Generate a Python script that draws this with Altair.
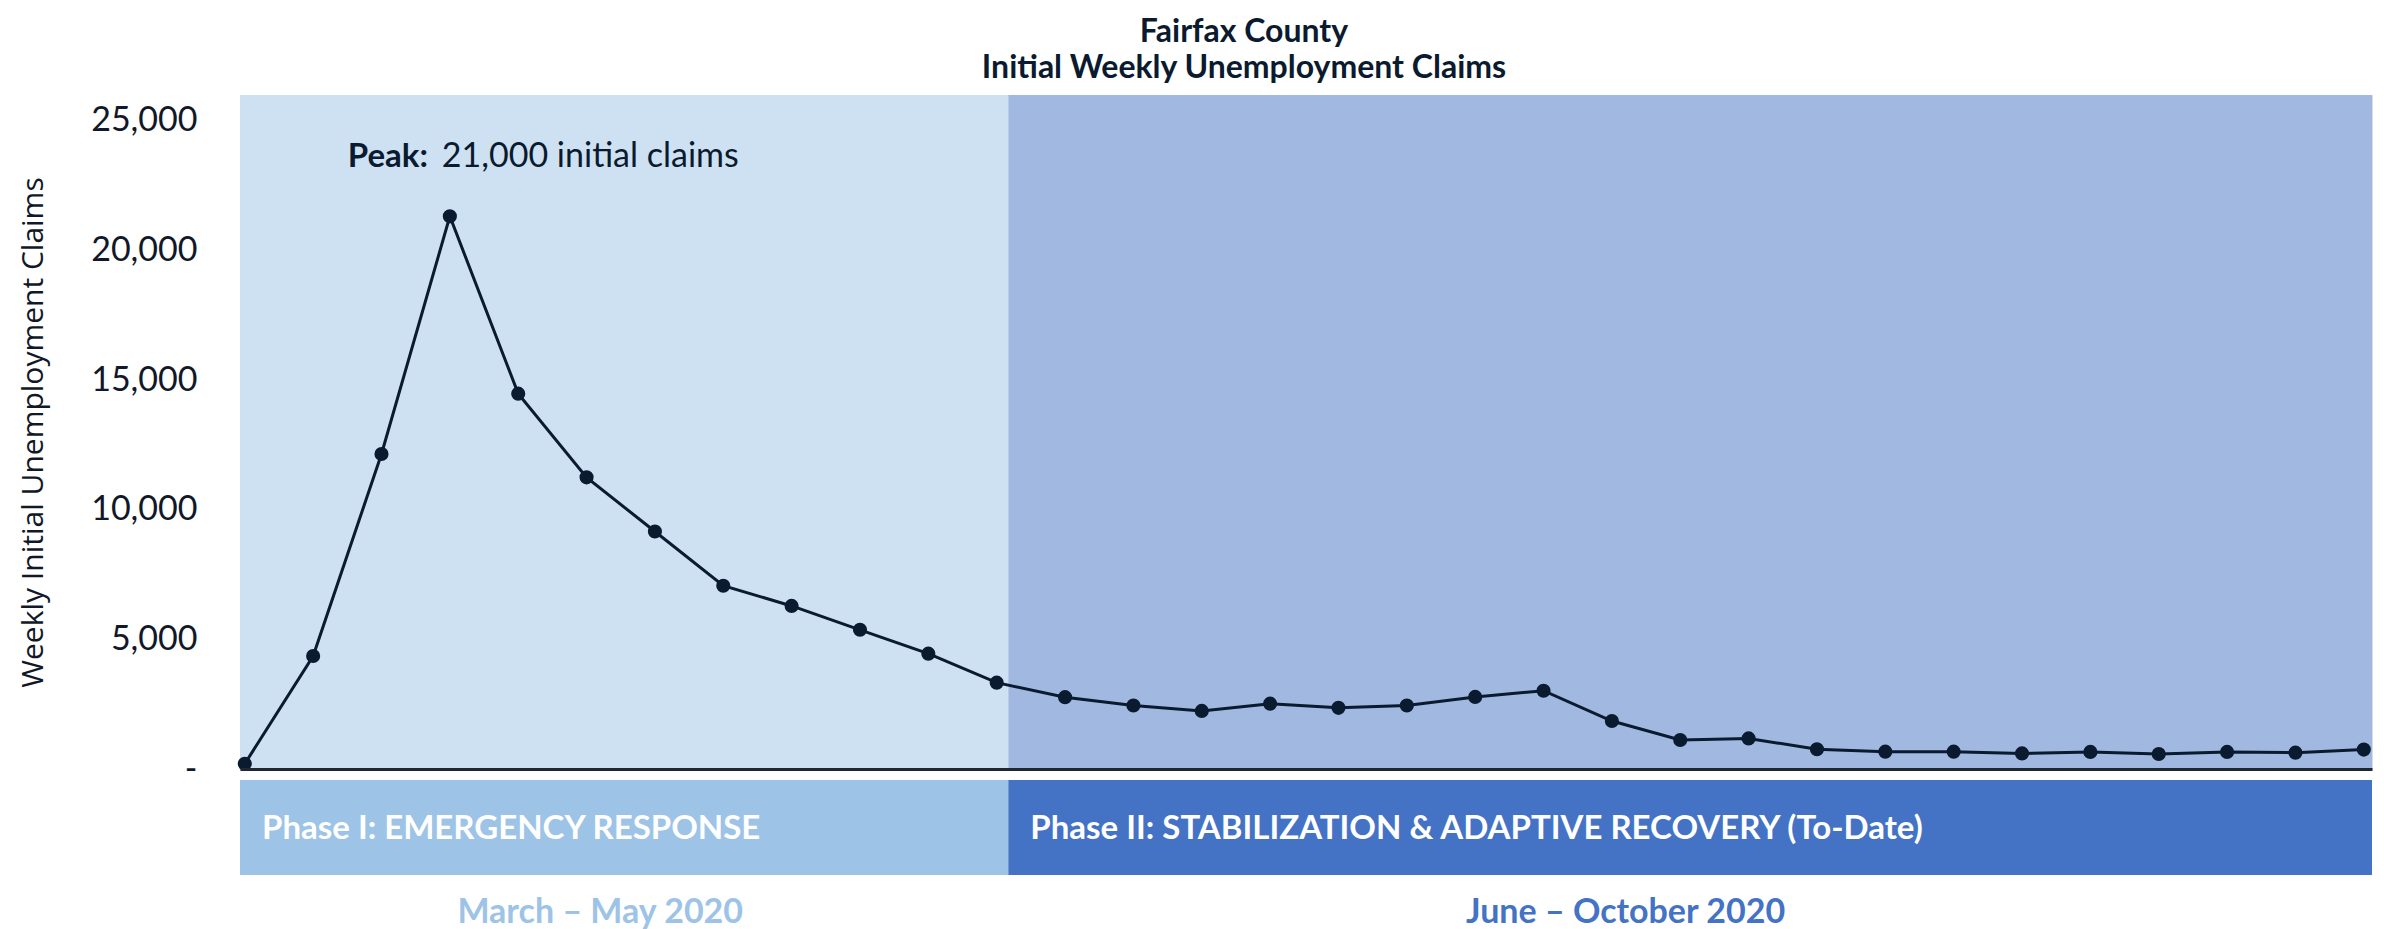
import altair as alt
import pandas as pd

# ---- data ----
claims = [200, 4360, 12150, 21320, 14480, 11250, 9160, 7070, 6290, 5370, 4450, 3330,
          2770, 2450, 2240, 2520, 2360, 2450, 2780, 3020, 1850, 1120, 1180, 760,
          670, 670, 600, 660, 580, 660, 630, 750]
weeks = list(range(len(claims)))

phase_labels = ["Phase I: EMERGENCY RESPONSE",
                "Phase II: STABILIZATION & ADAPTIVE RECOVERY (To-Date)"]
phase_start = [-0.07, 11.17]
phase_end = [11.17, 31.12]
period_labels = ["March – May 2020", "June – October 2020"]
period_center = [5.2, 20.2]

y_ticks = [0, 5000, 10000, 15000, 20000, 25000]
y_max = 26000

title_lines = ["Fairfax County", "Initial Weekly Unemployment Claims"]
y_title = "Weekly Initial Unemployment Claims"
peak_bold = "Peak:"
peak_text = "21,000 initial claims"

# ---- styling ----
NAVY = "#0A1A2F"
bg_colors = ["#CEE1F2", "#A1B8E1"]
bar_colors = ["#9DC3E6", "#4472C4"]
FONT = "Lato"

W, H = 2132, 674

line_df = pd.DataFrame({"week": weeks, "claims": claims})
phase_df = pd.DataFrame({"phase": phase_labels, "start": phase_start, "end": phase_end})
period_df = pd.DataFrame({"period": period_labels, "center": period_center})
peak_i = max(range(len(claims)), key=lambda i: claims[i])
peak_df = pd.DataFrame({"week": [weeks[peak_i]], "claims": [claims[peak_i]],
                        "bold": [peak_bold], "text": [peak_text]})

x_scale = alt.Scale(domain=[phase_start[0], phase_end[-1]], nice=False, zero=False)
y_scale = alt.Scale(domain=[0, y_max], nice=False)

x_axis = alt.Axis(labels=False, ticks=False, grid=False, title=None,
                  domainColor="#1F2733", domainWidth=3, zindex=1)
y_axis = alt.Axis(values=y_ticks, grid=False, ticks=False, tickSize=0, domain=False,
                  labelExpr="datum.value == 0 ? '-\u00a0\u00a0\u00a0' : format(datum.value, ',')",
                  labelFont=FONT, labelFontSize=34, labelColor="#111827", labelPadding=43,
                  title=y_title, titleFont="Open Sans", titleFontSize=30,
                  titleFontWeight="normal", titleColor="#111827",
                  titleAngle=-90, titleX=-207, titleY=H / 2,
                  titleAlign="center", titleBaseline="middle")

bg = alt.Chart(phase_df).mark_rect().encode(
    x=alt.X("start:Q", scale=x_scale, axis=x_axis),
    x2="end:Q",
    y=alt.Y(datum=y_max, scale=y_scale, axis=y_axis),
    y2=alt.Y2(datum=0),
    color=alt.Color("phase:N", scale=alt.Scale(domain=phase_labels, range=bg_colors), legend=None),
)

line = alt.Chart(line_df).mark_line(color=NAVY, strokeWidth=3).encode(
    x=alt.X("week:Q", scale=x_scale, axis=x_axis),
    y=alt.Y("claims:Q", scale=y_scale, axis=y_axis),
)
pts = alt.Chart(line_df).mark_circle(color=NAVY, size=200, opacity=1).encode(
    x=alt.X("week:Q", scale=x_scale, axis=x_axis),
    y=alt.Y("claims:Q", scale=y_scale, axis=y_axis),
)

peak_b = alt.Chart(peak_df).mark_text(align="left", baseline="alphabetic", dx=-102, dy=-49,
                                      font=FONT, fontSize=33, fontWeight="bold", color=NAVY).encode(
    x=alt.X("week:Q", scale=x_scale, axis=x_axis),
    y=alt.Y("claims:Q", scale=y_scale, axis=y_axis),
    text="bold:N",
)
peak_t = alt.Chart(peak_df).mark_text(align="left", baseline="alphabetic", dx=-8, dy=-49,
                                      font=FONT, fontSize=34, color=NAVY).encode(
    x=alt.X("week:Q", scale=x_scale, axis=x_axis),
    y=alt.Y("claims:Q", scale=y_scale, axis=y_axis),
    text="text:N",
)

bars = alt.Chart(phase_df).mark_rect().encode(
    x=alt.X("start:Q", scale=x_scale, axis=x_axis),
    x2="end:Q",
    y=alt.value(H + 11),
    y2=alt.value(H + 106),
    fill=alt.Fill("phase:N", scale=alt.Scale(domain=phase_labels, range=bar_colors), legend=None),
)
bar_text = alt.Chart(phase_df).mark_text(align="left", baseline="middle", dx=22,
                                         font=FONT, fontSize=33, fontWeight="bold",
                                         color="white").encode(
    x=alt.X("start:Q", scale=x_scale, axis=x_axis),
    y=alt.value(H + 60),
    text="phase:N",
)
period_text = alt.Chart(period_df).mark_text(align="center", baseline="middle",
                                             font=FONT, fontSize=34, fontWeight="bold").encode(
    x=alt.X("center:Q", scale=x_scale, axis=x_axis),
    y=alt.value(H + 144),
    text="period:N",
    fill=alt.Fill("period:N", scale=alt.Scale(domain=period_labels, range=bar_colors), legend=None),
)

chart = alt.layer(bg, line, pts, peak_b, peak_t, bars, bar_text, period_text).resolve_scale(
    color="independent", fill="independent"
).properties(
    width=W, height=H,
    autosize=alt.AutoSizeParams(type="none"),
    padding={"left": 232, "top": 87, "right": 4, "bottom": 160},
    title=alt.TitleParams(text=title_lines, font=FONT, fontSize=32, fontWeight="bold",
                          color=NAVY, lineHeight=36, anchor="middle", frame="group",
                          dx=-62, offset=10),
).configure_view(stroke=None).configure(background="white")

chart.save("out.html", embed_options={"renderer": "svg", "actions": False})
